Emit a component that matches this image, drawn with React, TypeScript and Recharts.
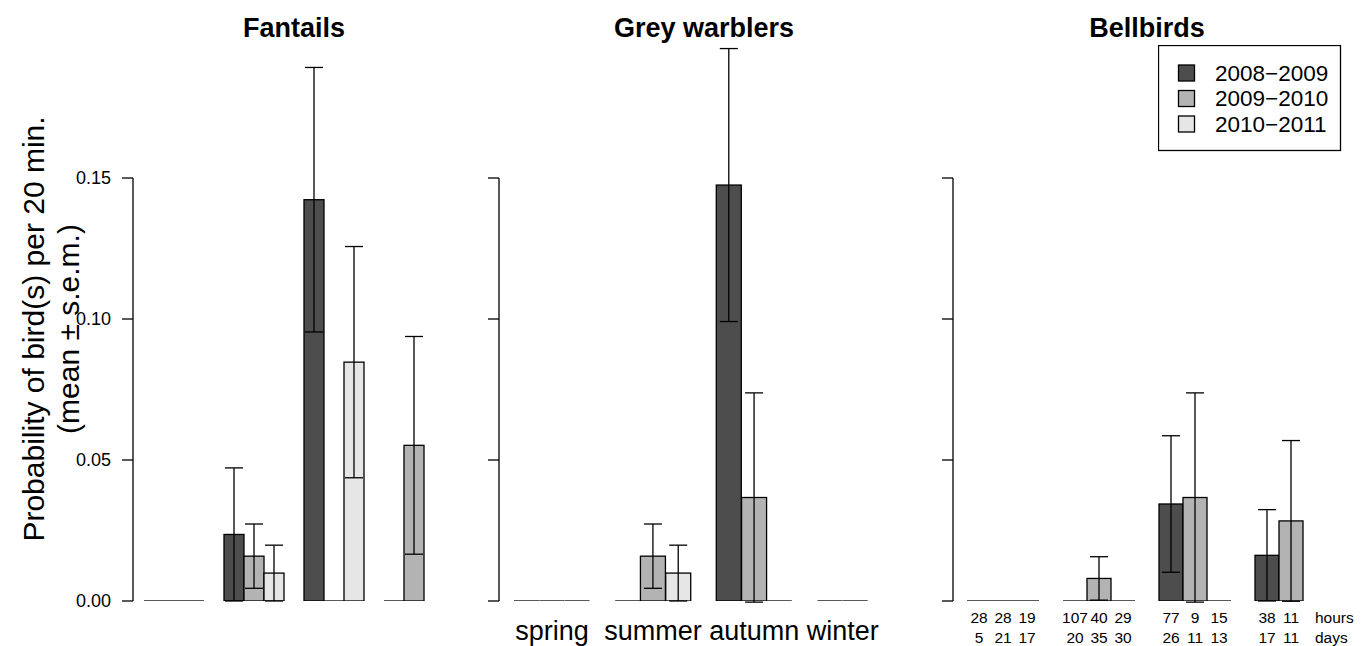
import React from "react";
import { BarChart, Bar, XAxis, YAxis, ErrorBar, Legend } from "recharts";

const seasons = ["spring", "summer", "autumn", "winter"];
const years = ["2008\u22122009", "2009\u22122010", "2010\u22122011"];
const yearFills = ["#4d4d4d", "#b3b3b3", "#e6e6e6"];
const yTicks = [0, 0.05, 0.1, 0.15];
const Y_MAX = 0.2;

// one row per season, one value per sampled year (winter 2010-2011 not sampled)
const fantailMean = [[0, 0, 0], [0.0236, 0.0159, 0.0099], [0.1423, 0, 0.0847], [0, 0.0552]];
const fantailSe = [[0, 0, 0], [0.0236, 0.0114, 0.0099], [0.0469, 0, 0.041], [0, 0.0386]];
const warblerMean = [[0, 0, 0], [0, 0.0159, 0.0099], [0.1475, 0.0367, 0], [0, 0]];
const warblerSe = [[0, 0, 0], [0, 0.0114, 0.0099], [0.0484, 0.0371, 0], [0, 0]];
const bellbirdMean = [[0, 0, 0], [0, 0.008, 0], [0.0344, 0.0367, 0], [0.0162, 0.0284]];
const bellbirdSe = [[0, 0, 0], [0, 0.0077, 0], [0.0242, 0.0371, 0], [0.0162, 0.0285]];
const bellbirdHours = [[28, 28, 19], [107, 40, 29], [77, 9, 15], [38, 11]];
const bellbirdDays = [[5, 21, 17], [20, 35, 30], [26, 11, 13], [17, 11]];

const FONT = "'Liberation Sans', Arial, Helvetica, sans-serif";
const LW = 1.3;

type Row = {
  key: string;
  season: string;
  year: number;
  mean: number | null;
  se: number | null;
  pos: number;
  n: number;
  last: boolean;
  hours?: number;
  days?: number;
};

const buildRows = (mean: number[][], se: number[][], hours?: number[][], days?: number[][]) => {
  const rows: Row[] = [];
  seasons.forEach((s, si) => {
    if (si > 0) rows.push({ key: "gap" + si, season: "", year: -1, mean: null, se: null, pos: -1, n: 0, last: false });
    mean[si].forEach((m, yi) =>
      rows.push({
        key: s + "-" + yi,
        season: s,
        year: yi,
        mean: m,
        se: se[si][yi],
        pos: yi,
        n: mean[si].length,
        last: si === seasons.length - 1 && yi === mean[si].length - 1,
        hours: hours ? hours[si][yi] : undefined,
        days: days ? days[si][yi] : undefined,
      })
    );
  });
  return rows;
};

const fantailRows = buildRows(fantailMean, fantailSe);
const warblerRows = buildRows(warblerMean, warblerSe);
const bellbirdRows = buildRows(bellbirdMean, bellbirdSe, bellbirdHours, bellbirdDays);

const BarShape = (props: any) => {
  const { x, y, width, height, payload } = props;
  if (!payload || payload.mean == null) return null;
  if (!height) return <line x1={x} x2={x + width} y1={y} y2={y} stroke="#000" strokeWidth={LW} />;
  return (
    <rect x={x} y={y} width={width} height={height} fill={yearFills[payload.year]} stroke="#000" strokeWidth={LW} />
  );
};

const YTick = (props: any) => {
  const { x, y, payload, height, showLabel } = props;
  const plotH = typeof height === "number" && height > 100 ? height : 564;
  const step = (plotH * (yTicks[1] - yTicks[0])) / Y_MAX;
  const isTop = payload.value >= yTicks[yTicks.length - 1];
  return (
    <g>
      <line x1={x - 11} x2={x} y1={y} y2={y} stroke="#000" strokeWidth={LW} />
      {!isTop && <line x1={x} x2={x} y1={y} y2={y - step} stroke="#000" strokeWidth={LW} />}
      {showLabel && (
        <text x={x - 22} y={y} textAnchor="end" dominantBaseline="central" fontSize={18} fill="#000" fontFamily={FONT}>
          {Number(payload.value).toFixed(2)}
        </text>
      )}
    </g>
  );
};

const SeasonTick = (props: any) => {
  const { x, y, payload } = props;
  const row = warblerRows.find((r) => r.key === payload.value);
  if (!row || row.pos < 0) return null;
  const mid = (row.n - 1) / 2;
  if (row.pos !== Math.floor(mid)) return null;
  const band = (payload.offset ?? 12.5) * 2;
  return (
    <text x={x + (mid - Math.floor(mid)) * band} y={y + 39} textAnchor="middle" fontSize={27} fill="#000" fontFamily={FONT}>
      {row.season}
    </text>
  );
};

const EffortTick = (props: any) => {
  const { x, y, payload } = props;
  const row = bellbirdRows.find((r) => r.key === payload.value);
  if (!row || row.pos < 0) return null;
  const half = payload.offset ?? 12;
  const t = { fontSize: 15.5, fill: "#000", fontFamily: FONT, dominantBaseline: "central" as const };
  return (
    <g>
      <text x={x} y={y + 16} textAnchor="middle" {...t}>{row.hours}</text>
      <text x={x} y={y + 36} textAnchor="middle" {...t}>{row.days}</text>
      {row.last && (
        <>
          <text x={x + half + 12} y={y + 16} textAnchor="start" {...t}>hours</text>
          <text x={x + half + 12} y={y + 36} textAnchor="start" {...t}>days</text>
        </>
      )}
    </g>
  );
};

const LegendBox = () => (
  <svg width={184} height={107} style={{ display: "block" }}>
    <rect x={0.5} y={0.5} width={182} height={105} fill="#fff" stroke="#000" strokeWidth={LW} />
    {years.map((yr, i) => (
      <g key={yr}>
        <rect x={20.5} y={20 + i * 25.5} width={16} height={16} fill={yearFills[i]} stroke="#000" strokeWidth={LW} />
        <text x={57} y={28 + i * 25.5} dominantBaseline="central" fontSize={22.5} fill="#000" fontFamily={FONT}>
          {yr}
        </text>
      </g>
    ))}
  </svg>
);

type PanelProps = {
  rows: Row[];
  left: number;
  axisX: number;
  plotRight: number;
  padLeft: number;
  padRight: number;
  extraRight: number;
  showYLabels: boolean;
  xTick?: any;
  children?: React.ReactNode;
};

const Panel = ({ rows, left, axisX, plotRight, padLeft, padRight, extraRight, showYLabels, xTick, children }: PanelProps) => (
  <div style={{ position: "absolute", left, top: 0 }}>
    <BarChart
      width={plotRight - left + extraRight}
      height={646}
      data={rows}
      margin={{ top: 37, right: extraRight, bottom: 0, left: 0 }}
      barCategoryGap={0}
      barGap={0}
    >
      <XAxis
        dataKey="key"
        axisLine={false}
        tickLine={false}
        tickSize={0}
        tickMargin={0}
        height={45}
        interval={0}
        padding={{ left: padLeft, right: padRight }}
        tick={xTick ?? false}
      />
      <YAxis
        domain={[0, Y_MAX]}
        ticks={yTicks}
        allowDataOverflow
        interval={0}
        width={axisX - left}
        axisLine={false}
        tickLine={false}
        tickSize={0}
        tickMargin={0}
        tick={(p: any) => <YTick {...p} showLabel={showYLabels} />}
      />
      <Bar dataKey="mean" isAnimationActive={false} shape={BarShape}>
        <ErrorBar dataKey="se" width={9} stroke="#000" strokeWidth={LW} direction="y" isAnimationActive={false} />
      </Bar>
      {children}
    </BarChart>
  </div>
);

export default function App() {
  return (
    <div style={{ position: "absolute", left: 0, top: 0, width: 1370, height: 646, background: "#fff", fontFamily: FONT }}>
      <Panel rows={fantailRows} left={0} axisX={133} plotRight={455} padLeft={11} padRight={31} extraRight={0} showYLabels />
      <Panel
        rows={warblerRows}
        left={457}
        axisX={499}
        plotRight={909}
        padLeft={15}
        padRight={41}
        extraRight={4}
        showYLabels={false}
        xTick={SeasonTick}
      />
      <Panel
        rows={bellbirdRows}
        left={913}
        axisX={953}
        plotRight={1341}
        padLeft={14}
        padRight={38}
        extraRight={29}
        showYLabels={false}
        xTick={EffortTick}
      >
        <Legend
          content={LegendBox}
          layout="horizontal"
          verticalAlign="middle"
          align="center"
          wrapperStyle={{ left: 1158 - 913, top: 45, width: 184, height: 107 }}
        />
      </Panel>
      <svg width={1370} height={646} style={{ position: "absolute", left: 0, top: 0, pointerEvents: "none" }}>
        <g fontFamily={FONT} fontWeight="bold" fontSize={27} textAnchor="middle" fill="#000">
          <text x={294} y={37}>Fantails</text>
          <text x={704} y={37}>Grey warblers</text>
          <text x={1147} y={37}>Bellbirds</text>
        </g>
        <g fontFamily={FONT} fontSize={30} textAnchor="middle" fill="#000">
          <text transform="translate(33,329) rotate(-90)" dominantBaseline="central">
            Probability of bird(s) per 20 min.
          </text>
          <text transform="translate(68,329) rotate(-90)" dominantBaseline="central">
            (mean ± s.e.m.)
          </text>
        </g>
      </svg>
    </div>
  );
}
